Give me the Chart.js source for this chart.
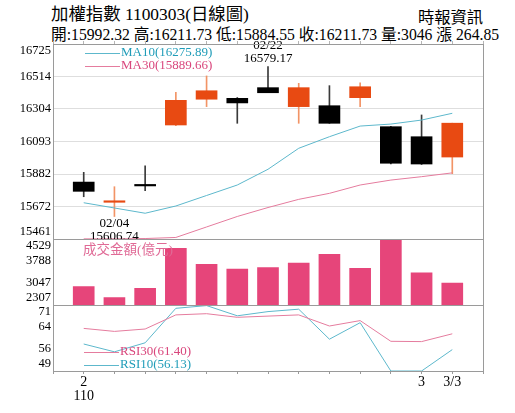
<!DOCTYPE html>
<html>
<head>
<meta charset="utf-8">
<script src="https://cdn.jsdelivr.net/npm/chart.js@4/dist/chart.umd.min.js"></script>
<style>
  body { margin: 0; background: #fff; width: 515px; height: 413px; overflow: hidden; position: relative;
         font-family: "Liberation Serif", "Noto Sans CJK TC", serif; color: #000; }
  .box { position: absolute; left: 0; top: 0; width: 515px; height: 413px; }
  .txt { position: absolute; white-space: nowrap; }
</style>
</head>
<body>
<div class="txt" style="left:51px;top:6px;font-size:17.4px;line-height:17px">加權指數 1100303(日線圖)</div>
<div class="txt" style="left:418px;top:10px;font-size:16.3px;line-height:16px">時報資訊</div>
<div class="txt" style="left:51px;top:27px;font-size:15.7px;line-height:16px">開:15992.32 高:16211.73 低:15884.55 收:16211.73 量:3046 漲 264.85</div>
<div class="box"><canvas id="main"></canvas></div>
<div class="box"><canvas id="vol"></canvas></div>
<div class="box"><canvas id="rsi"></canvas></div>
<script>
// trading days shown (index 0..12)
const DATES = ['02/03', '02/04', '02/05', '02/17', '02/18', '02/19', '02/22', '02/23', '02/24', '02/25', '02/26', '03/02', '03/03'];
const X_LABELS = [['2', '110'], '', '', '', '', '', '', '', '', '', '', '3', '3/3'];

const OPEN  = [15830, 15699, 15808, 16200, 16367, 16373, 16442, 16319, 16325, 16377, 16189, 16124, 15992.32];
const HIGH  = [15893, 15800, 15936, 16412, 16518, 16378, 16579.17, 16470, 16455, 16474, 16192, 16265, 16211.73];
const LOW   = [15735, 15606.74, 15774, 16195, 16319, 16211, 16409, 16211, 16211, 16319, 15948, 15944, 15884.55];
const CLOSE = [15770, 15702, 15805, 16360, 16422, 16343, 16409, 16442, 16211, 16448, 15952, 15947, 16211.73];

const MA10 = [15696, 15662, 15628, 15675, 15743, 15811, 15913, 16049, 16124, 16193, 16206, 16232, 16275.89];
const MA30 = [15462, 15462, 15464, 15471, 15539, 15607, 15665, 15718, 15757, 15811, 15843, 15865, 15889.66];

const VOLUME = [2923, 2553, 2869, 4216, 3677, 3519, 3563, 3721, 4014, 3542, 4529, 3394, 3046];

const RSI10 = [58.0, 55.4, 58.4, 69.9, 70.8, 67.4, 68.8, 69.6, 59.6, 65.1, 49.0, 49.0, 56.13];
const RSI30 = [63.2, 62.2, 63.0, 67.7, 68.1, 66.9, 67.3, 67.7, 64.0, 65.8, 58.9, 58.8, 61.40];

const PRICE_TICKS = [15461, 15671.67, 15882.33, 16093, 16303.67, 16514.33, 16725];
const PRICE_LABELS = ['15461', '15672', '15882', '16093', '16304', '16514', '16725'];
const VOL_TICKS = [2307, 3047.33, 3787.67, 4529];
const VOL_LABELS = ['2307', '3047', '3788', '4529'];
const RSI_TICKS = [49, 56.33, 63.67, 71];
const RSI_LABELS = ['49', '56', '64', '71'];

const SERIF = '"Liberation Serif", "Noto Sans CJK TC", serif';
const UP = '#e84a12';
const UP_WICK = '#f29466';
const DOWN = '#000000';
const DOWN_WICK = '#3a3a3a';
const CYAN_LINE = '#5db8cc';
const CYAN_TEXT = '#1f9cb8';
const PINK_LINE = '#e57c9e';
const PINK_TEXT = '#d9467c';
const VOL_COLOR = '#e6457a';

Chart.defaults.animation = false;
Chart.defaults.events = [];
Chart.defaults.plugins.legend.display = false;
Chart.defaults.plugins.tooltip.enabled = false;
Chart.defaults.font.family = SERIF;

const pts = arr => arr.map((v, i) => ({ x: i, y: v }));

const xAxis = extra => Object.assign({
  type: 'linear', min: -1, max: 13, offset: false,
  ticks: { display: false, stepSize: 1 },
  grid: { display: false, offset: false },
  border: { display: false },
}, extra);

// y axis with fixed ticks; end labels pushed inside the panel
const yAxis = (values, labels, gridOn) => ({
  min: values[0],
  max: values[values.length - 1],
  afterBuildTicks: scale => { scale.ticks = values.map(v => ({ value: v })); },
  afterFit: scale => { scale.width = 53; scale.paddingTop = 0; scale.paddingBottom = 0; },
  ticks: {
    autoSkip: false,
    padding: 2,
    color: '#000',
    font: { size: 12.5, lineHeight: 1.1 },
    callback: (v, i) => {
      if (i === 0) return [labels[0], ''];
      if (i === labels.length - 1) return ['', labels[i]];
      return labels[i];
    },
  },
  grid: { display: gridOn, color: '#dedede', drawTicks: false },
  border: { color: '#9a9a9a' },
});

const frame = {
  id: 'frame',
  afterDraw(chart) {
    const { ctx, chartArea: a } = chart;
    ctx.save();
    ctx.strokeStyle = '#9a9a9a';
    ctx.lineWidth = 1;
    ctx.strokeRect(Math.round(a.left) + 0.5, Math.round(a.top) + 0.5,
      Math.round(a.right - a.left), Math.round(a.bottom - a.top));
    ctx.restore();
  },
};

function legendRow(ctx, x, y, lineColor, textColor, text) {
  ctx.strokeStyle = lineColor;
  ctx.lineWidth = 1;
  ctx.beginPath();
  ctx.moveTo(x, y + 0.5);
  ctx.lineTo(x + 35, y + 0.5);
  ctx.stroke();
  ctx.fillStyle = textColor;
  ctx.textAlign = 'left';
  ctx.textBaseline = 'middle';
  ctx.fillText(text, x + 36, y);
}

const mainNotes = {
  id: 'mainNotes',
  afterDatasetsDraw(chart) {
    const { ctx, chartArea: a, scales: { x, y } } = chart;
    ctx.save();
    ctx.font = '13px ' + SERIF;
    legendRow(ctx, a.left + 32, a.top + 9, CYAN_LINE, CYAN_TEXT, 'MA10(' + MA10[MA10.length - 1].toFixed(2) + ')');
    legendRow(ctx, a.left + 32, a.top + 22, PINK_LINE, PINK_TEXT, 'MA30(' + MA30[MA30.length - 1].toFixed(2) + ')');

    const hi = HIGH.indexOf(Math.max(...HIGH));
    const lo = LOW.indexOf(Math.min(...LOW));
    ctx.fillStyle = '#000';
    ctx.textAlign = 'center';
    ctx.textBaseline = 'bottom';
    const hx = x.getPixelForValue(hi), hy = y.getPixelForValue(HIGH[hi]);
    ctx.fillText(HIGH[hi].toFixed(2), hx, hy - 1);
    ctx.fillText(DATES[hi], hx, hy - 14);
    ctx.textBaseline = 'top';
    const lx = x.getPixelForValue(lo), ly = y.getPixelForValue(LOW[lo]);
    ctx.fillText(DATES[lo], lx, ly + 1);
    ctx.fillText(LOW[lo].toFixed(2), lx, ly + 14);
    ctx.restore();
  },
};

const volNotes = {
  id: 'volNotes',
  afterDatasetsDraw(chart) {
    const { ctx, chartArea: a } = chart;
    ctx.save();
    ctx.font = '13.5px ' + SERIF;
    ctx.fillStyle = '#e06a96';
    ctx.textAlign = 'left';
    ctx.textBaseline = 'middle';
    ctx.fillText('成交金額(億元)', a.left + 30, a.top + 11);
    ctx.restore();
  },
};

const rsiNotes = {
  id: 'rsiNotes',
  afterDatasetsDraw(chart) {
    const { ctx, chartArea: a } = chart;
    ctx.save();
    ctx.font = '13px ' + SERIF;
    legendRow(ctx, a.left + 31, a.top + 47, PINK_LINE, PINK_TEXT, 'RSI30(' + RSI30[RSI30.length - 1].toFixed(2) + ')');
    legendRow(ctx, a.left + 31, a.top + 60, CYAN_LINE, CYAN_TEXT, 'RSI10(' + RSI10[RSI10.length - 1].toFixed(2) + ')');
    ctx.restore();
  },
};

const isUp = OPEN.map((o, i) => CLOSE[i] >= o);

new Chart(document.getElementById('main'), {
  type: 'bar',
  data: {
    datasets: [
      { type: 'line', data: pts(MA10), borderColor: CYAN_LINE, borderWidth: 1, pointRadius: 0, order: 0 },
      { type: 'line', data: pts(MA30), borderColor: PINK_LINE, borderWidth: 1, pointRadius: 0, order: 0 },
      {
        data: OPEN.map((o, i) => ({ x: i, y: [o, CLOSE[i]] })),
        backgroundColor: isUp.map(u => (u ? UP : DOWN)),
        barThickness: 21, minBarLength: 1.5, grouped: false, order: 1,
      },
      {
        data: LOW.map((l, i) => ({ x: i, y: [l, HIGH[i]] })),
        backgroundColor: isUp.map(u => (u ? UP_WICK : DOWN_WICK)),
        barThickness: 1, grouped: false, order: 2,
      },
    ],
  },
  options: {
    responsive: true,
    maintainAspectRatio: false,
    layout: { padding: { left: 0, top: 41, right: 32, bottom: 174 } },
    scales: {
      x: xAxis({ position: 'top', grid: { display: true, drawOnChartArea: false, tickLength: 3, color: '#b5b5b5', offset: false } }),
      y: yAxis(PRICE_TICKS, PRICE_LABELS, true),
    },
  },
  plugins: [frame, mainNotes],
});

new Chart(document.getElementById('vol'), {
  type: 'bar',
  data: {
    datasets: [
      { data: pts(VOLUME), backgroundColor: VOL_COLOR, barThickness: 21, grouped: false },
    ],
  },
  options: {
    responsive: true,
    maintainAspectRatio: false,
    layout: { padding: { left: 0, top: 239, right: 32, bottom: 108 } },
    scales: {
      x: xAxis({ display: false }),
      y: yAxis(VOL_TICKS, VOL_LABELS, false),
    },
  },
  plugins: [frame, volNotes],
});

new Chart(document.getElementById('rsi'), {
  type: 'line',
  data: {
    datasets: [
      { data: pts(RSI30), borderColor: PINK_LINE, borderWidth: 1, pointRadius: 0 },
      { data: pts(RSI10), borderColor: CYAN_LINE, borderWidth: 1, pointRadius: 0 },
    ],
  },
  options: {
    responsive: true,
    maintainAspectRatio: false,
    layout: { padding: { left: 0, top: 305, right: 32, bottom: 0 } },
    scales: {
      x: xAxis({
        afterFit: scale => { scale.height = 42; },
        ticks: {
          display: true, stepSize: 1, autoSkip: false, maxRotation: 0, padding: 1,
          color: '#000', font: { size: 14, lineHeight: 1 },
          callback: v => (Number.isInteger(v) && X_LABELS[v] !== undefined ? X_LABELS[v] : ''),
        },
        grid: { display: true, drawOnChartArea: false, tickLength: 3, color: '#9a9a9a', offset: false },
      }),
      y: yAxis(RSI_TICKS, RSI_LABELS, false),
    },
  },
  plugins: [frame, rsiNotes],
});
</script>
</body>
</html>
